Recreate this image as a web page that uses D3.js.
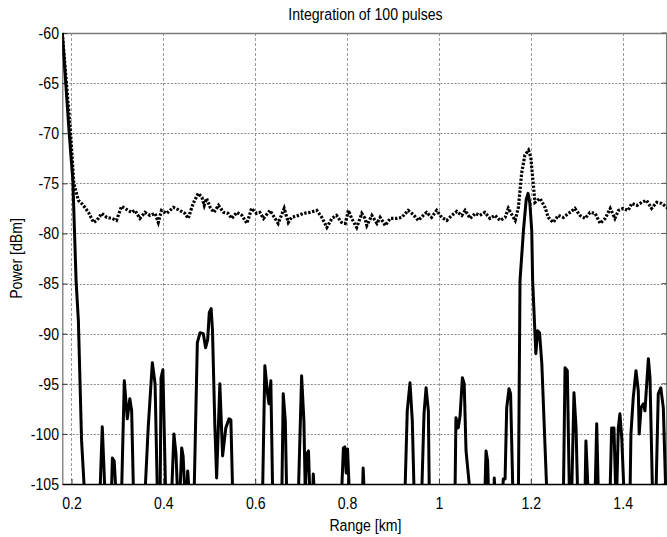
<!DOCTYPE html>
<html>
<head>
<meta charset="utf-8">
<script src="https://cdn.jsdelivr.net/npm/d3@7"></script>
<style>
	body{margin:0;background:#fff;}
	svg{display:block;}
	text{font-family:"Liberation Sans",Arial,sans-serif;}
</style>
</head>
<body>
<div id="chart_div"></div>
<script>

////////////////////////////////////////
// data
////////////////////////////////////////

var chartTitle = 'Integration of 100 pulses';
var xLabel = 'Range [km]';
var yLabel = 'Power [dBm]';

var xTicks = [0.2,0.4,0.6,0.8,1.0,1.2,1.4];
var xTickLabels = ['0.2','0.4','0.6','0.8','1','1.2','1.4'];
var yTicks = [-60,-65,-70,-75,-80,-85,-90,-95,-100,-105];

// dotted trace (noise floor)
var rangeDotted = [0.180,0.198,0.205,0.215,0.222,0.229,0.237,0.248,0.255,0.266,0.277,0.288,0.298,0.309,
	0.320,0.331,0.338,0.349,0.360,0.371,0.382,0.389,0.396,0.407,0.422,0.436,0.447,0.454,0.465,0.476,
	0.484,0.489,0.494,0.502,0.510,0.520,0.531,0.541,0.549,0.560,0.571,0.582,0.592,0.603,0.610,0.618,
	0.632,0.639,0.650,0.663,0.672,0.679,0.694,0.705,0.719,0.734,0.745,0.756,0.767,0.777,0.788,0.796,
	0.803,0.810,0.821,0.832,0.839,0.843,0.854,0.865,0.872,0.883,0.894,0.908,0.919,0.933,0.944,0.955,
	0.966,0.973,0.984,0.995,1.006,1.017,1.028,1.039,1.050,1.057,1.068,1.079,1.089,1.100,1.111,1.122,
	1.133,1.144,1.151,1.162,1.166,1.173,1.180,1.187,1.195,1.200,1.204,1.209,1.220,1.231,1.238,1.249,
	1.260,1.271,1.285,1.296,1.307,1.318,1.329,1.340,1.351,1.362,1.373,1.383,1.391,1.401,1.412,1.420,
	1.431,1.442,1.452,1.463,1.474,1.485,1.496,1.503];
var powerDotted = [-60,-70,-75,-76.7,-77.0,-77.4,-77.9,-78.9,-78.7,-78.0,-78.4,-78.5,-78.7,-77.3,
	-77.6,-77.9,-77.7,-78.5,-77.9,-78.2,-78.0,-78.9,-77.7,-78.0,-77.4,-77.7,-78.0,-78.5,-77.0,-76.0,
	-76.4,-77.2,-76.5,-77.4,-77.9,-77.2,-77.9,-78.0,-78.5,-77.9,-78.2,-79.0,-77.5,-78.0,-77.9,-78.5,
	-77.7,-78.2,-79.0,-77.5,-78.9,-78.4,-78.2,-78.0,-77.9,-77.7,-78.4,-79.4,-78.5,-78.2,-78.9,-79.0,
	-77.7,-78.5,-79.4,-78.0,-78.5,-79.2,-78.2,-79.0,-78.4,-79.2,-78.5,-78.5,-78.4,-77.7,-78.1,-78.7,
	-78.2,-77.9,-78.4,-77.7,-78.4,-78.7,-78.2,-77.8,-78.2,-77.7,-78.5,-78.0,-78.2,-77.9,-78.5,-78.2,
	-78.7,-78.4,-77.5,-78.4,-78.7,-77.4,-74.0,-72.2,-71.7,-72.4,-74.4,-76.9,-76.5,-77.4,-78.4,-78.9,
	-78.2,-78.4,-77.9,-77.5,-78.2,-78.5,-77.9,-78.0,-79.0,-78.5,-77.5,-78.5,-77.7,-77.5,-77.7,-77.0,
	-77.2,-76.9,-76.7,-77.5,-76.9,-77.0,-77.4,-77.3];

// solid trace (integrated echo), values below -105 fall outside the axes
var rangeSolid = [0.180,0.195,0.203,0.210,0.215,0.222,0.2285,
	0.262,0.267,0.273, 0.287,0.289,0.293,0.297,
	0.309,0.315,0.3215,0.327,0.331,0.335, 0.360,0.367,0.376,0.382,0.387,
	0.393,0.395,0.399,0.405, 0.418,0.423,0.4275,0.431, 0.436,0.440,0.443,0.447, 0.451,0.453,0.4565,
	0.467,0.470,0.474,0.480,0.487,0.492,0.4965,0.500,0.504,0.507,0.512,0.516,0.523,0.529,0.536,0.543,0.547,0.551,
	0.616,0.621,0.627,0.630,0.634,0.638, 0.658,0.661,0.6655,0.6685,
	0.694,0.701,0.706,0.709,0.712,0.716,0.719, 0.725,0.7265,0.7286,
	0.788,0.792,0.795,0.798,0.801,0.805, 0.8335,0.835,0.8375,
	0.926,0.931,0.937,0.942,0.946, 0.9625,0.9675,0.972,0.977,0.979,
	1.035,1.037,1.042,1.046,1.051,1.055,1.059,1.068, 1.100,1.1025,1.106,1.108, 1.120,1.1205,1.122,
	1.139,1.140,1.144,1.1475,1.1525,1.156,1.161,
	1.173,1.1765,1.184,1.190,1.194,1.198,1.202,1.204,1.211,1.215,1.219,1.224,1.235,
	1.271,1.2745,1.2795,1.284, 1.289,1.294,1.2985,1.302, 1.318,1.320,1.325, 1.340,1.3435,1.347,
	1.3725,1.376,1.381,1.385,1.387,1.3905,1.394,1.398,1.403,
	1.416,1.418,1.423,1.429,1.434,1.436,1.440,1.445,1.4485,1.456,1.4595,1.465,
	1.4725,1.4775,1.483,1.4885,1.494];
var powerSolid = [-60,-70,-74.7,-84.7,-88.7,-100.7,-106,
	-106,-99.3,-106, -106,-102.4,-102.7,-106,
	-106,-94.7,-98.5,-96.5,-97.7,-106, -106,-99.4,-92.9,-95.0,-106,
	-106,-94.4,-93.6,-106, -106,-100.0,-102.0,-106, -106,-101.4,-102.2,-106, -106,-103.7,-106,
	-106,-99.4,-90.9,-89.9,-90.0,-91.4,-90.6,-87.9,-87.5,-89.7,-99.0,-104.4,-95.0,-102.2,-99.4,-98.5,-98.6,-106,
	-106,-93.2,-96.0,-97.0,-94.7,-106, -106,-96.0,-98.7,-106,
	-106,-94.2,-98.7,-106,-102.0,-101.7,-106, -106,-104.0,-106,
	-106,-101.4,-101.3,-103.9,-101.5,-106, -106,-103.4,-106,
	-106,-97.7,-94.9,-98.7,-106, -106,-98.0,-95.4,-97.7,-106,
	-106,-98.4,-99.4,-98.2,-94.4,-95.0,-101.7,-106, -106,-101.7,-102.7,-106, -106,-104.4,-106,
	-106,-104.5,-104.5,-97.4,-95.5,-96.0,-106,
	-106,-84.7,-79.7,-76.6,-76.0,-77.0,-79.7,-84.7,-92.0,-89.7,-89.9,-93.0,-106,
	-106,-93.4,-93.7,-106, -106,-95.9,-99.4,-106, -106,-100.7,-106, -106,-99.0,-106,
	-106,-99.4,-99.4,-106,-106,-99.4,-98.0,-100.4,-106,
	-106,-100.0,-96.4,-93.7,-95.7,-100.0,-97.4,-97.0,-97.7,-92.5,-94.4,-106,
	-106,-96.0,-95.4,-97.4,-106];

////////////////////////////////////////
// layout
////////////////////////////////////////

var svg_w = 667;
var svg_h = 537;
var plot_l = 62.3;
var plot_r = 668.6;
var plot_t = 33;
var plot_b = 484;
var narrow = 0.83; // the source font is a condensed sans

var vis = d3.select('#chart_div')
	.append('svg')
	.attr('width',svg_w)
	.attr('height',svg_h);

var x = d3.scaleLinear().domain([0.18,1.5]).range([plot_l,plot_r]);
var y = d3.scaleLinear().domain([-105,-60]).range([plot_b,plot_t]);

vis.append('defs').append('clipPath')
	.attr('id','plotClip')
	.append('rect')
	.attr('x',plot_l)
	.attr('y',plot_t-2)
	.attr('width',plot_r-plot_l)
	.attr('height',plot_b-plot_t+2);

////////////////////////////////////////
// grid
////////////////////////////////////////

vis.selectAll('line.vgrid')
	.data(xTicks)
	.enter()
		.append('line')
		.attr('class','vgrid')
		.attr('x1',function(d){ return Math.round(x(d))+0.5; })
		.attr('x2',function(d){ return Math.round(x(d))+0.5; })
		.attr('y1',plot_t)
		.attr('y2',plot_b)
		.attr('stroke','#9a9a9a')
		.attr('stroke-width',1)
		.attr('stroke-dasharray','3,2');

vis.selectAll('line.hgrid')
	.data(yTicks.filter(function(d){ return d>-105 && d<-60; }))
	.enter()
		.append('line')
		.attr('class','hgrid')
		.attr('x1',plot_l)
		.attr('x2',plot_r)
		.attr('y1',function(d){ return Math.round(y(d))+0.5; })
		.attr('y2',function(d){ return Math.round(y(d))+0.5; })
		.attr('stroke','#8a8a8a')
		.attr('stroke-width',1)
		.attr('stroke-dasharray','2,1.5');

////////////////////////////////////////
// frame + axes
////////////////////////////////////////

vis.append('line')
	.attr('x1',plot_l).attr('x2',plot_r)
	.attr('y1',plot_t+0.5).attr('y2',plot_t+0.5)
	.attr('stroke','#7a7a7a').attr('stroke-width',1.3);

vis.append('line')
	.attr('x1',plot_r-2).attr('x2',plot_r-2)
	.attr('y1',plot_t).attr('y2',plot_b)
	.attr('stroke','#7a7a7a').attr('stroke-width',1.3);

var yAxis = d3.axisLeft(y)
	.tickValues(yTicks)
	.tickSizeInner(-5)
	.tickSizeOuter(0)
	.tickPadding(4)
	.tickFormat(function(d){ return d; });

var yAxisG = vis.append('g')
	.attr('transform','translate('+plot_l+',0)')
	.call(yAxis);
yAxisG.select('.domain').attr('stroke','#7a7a7a').attr('stroke-width',1.3);
yAxisG.selectAll('line').attr('stroke','#333');
yAxisG.selectAll('text')
	.attr('font-size',17)
	.attr('fill','#000')
	.attr('font-family',null)
	.attr('transform','scale('+narrow+',1)');

// right side ticks
vis.selectAll('line.rtick')
	.data(yTicks)
	.enter()
		.append('line')
		.attr('class','rtick')
		.attr('x1',plot_r-7).attr('x2',plot_r-2)
		.attr('y1',function(d){ return y(d); })
		.attr('y2',function(d){ return y(d); })
		.attr('stroke','#555');

var xAxis = d3.axisBottom(x)
	.tickValues(xTicks)
	.tickSizeInner(-5)
	.tickSizeOuter(0)
	.tickPadding(13)
	.tickFormat(function(d,i){ return xTickLabels[i]; });

var xAxisG = vis.append('g')
	.attr('transform','translate(0,'+plot_b+')')
	.call(xAxis);
xAxisG.select('.domain').attr('stroke','#000').attr('stroke-width',1.5);
xAxisG.selectAll('line').attr('stroke','#333');
xAxisG.selectAll('text')
	.attr('font-size',17)
	.attr('fill','#000')
	.attr('font-family',null)
	.attr('transform','scale('+narrow+',1)')
	.attr('x',0);

////////////////////////////////////////
// traces
////////////////////////////////////////

var dottedData = rangeDotted.map(function(d,i){ return [d,powerDotted[i]]; });
var solidData = rangeSolid.map(function(d,i){ return [d,powerSolid[i]]; });

var line = d3.line()
	.x(function(d){ return x(d[0]); })
	.y(function(d){ return y(d[1]); });

var traces = vis.append('g').attr('clip-path','url(#plotClip)');

traces.append('path')
	.datum(dottedData)
	.attr('d',line)
	.attr('fill','none')
	.attr('stroke','#000')
	.attr('stroke-width',3.2)
	.attr('stroke-dasharray','2.4,1.6');

traces.append('path')
	.datum(solidData)
	.attr('d',line)
	.attr('fill','none')
	.attr('stroke','#000')
	.attr('stroke-width',3)
	.attr('stroke-linejoin','round');

////////////////////////////////////////
// labels
////////////////////////////////////////

var mid_x = (plot_l+plot_r)/2;

vis.append('text')
	.attr('transform','translate('+mid_x+',20) scale('+narrow+',1)')
	.attr('text-anchor','middle')
	.attr('font-size',17)
	.text(chartTitle);

vis.append('text')
	.attr('transform','translate('+mid_x+',531) scale('+narrow+',1)')
	.attr('text-anchor','middle')
	.attr('font-size',17)
	.text(xLabel);

vis.append('text')
	.attr('transform','translate(22,'+((plot_t+plot_b)/2)+') rotate(-90) scale('+narrow+',1)')
	.attr('text-anchor','middle')
	.attr('font-size',17)
	.text(yLabel);

</script>
</body>
</html>
